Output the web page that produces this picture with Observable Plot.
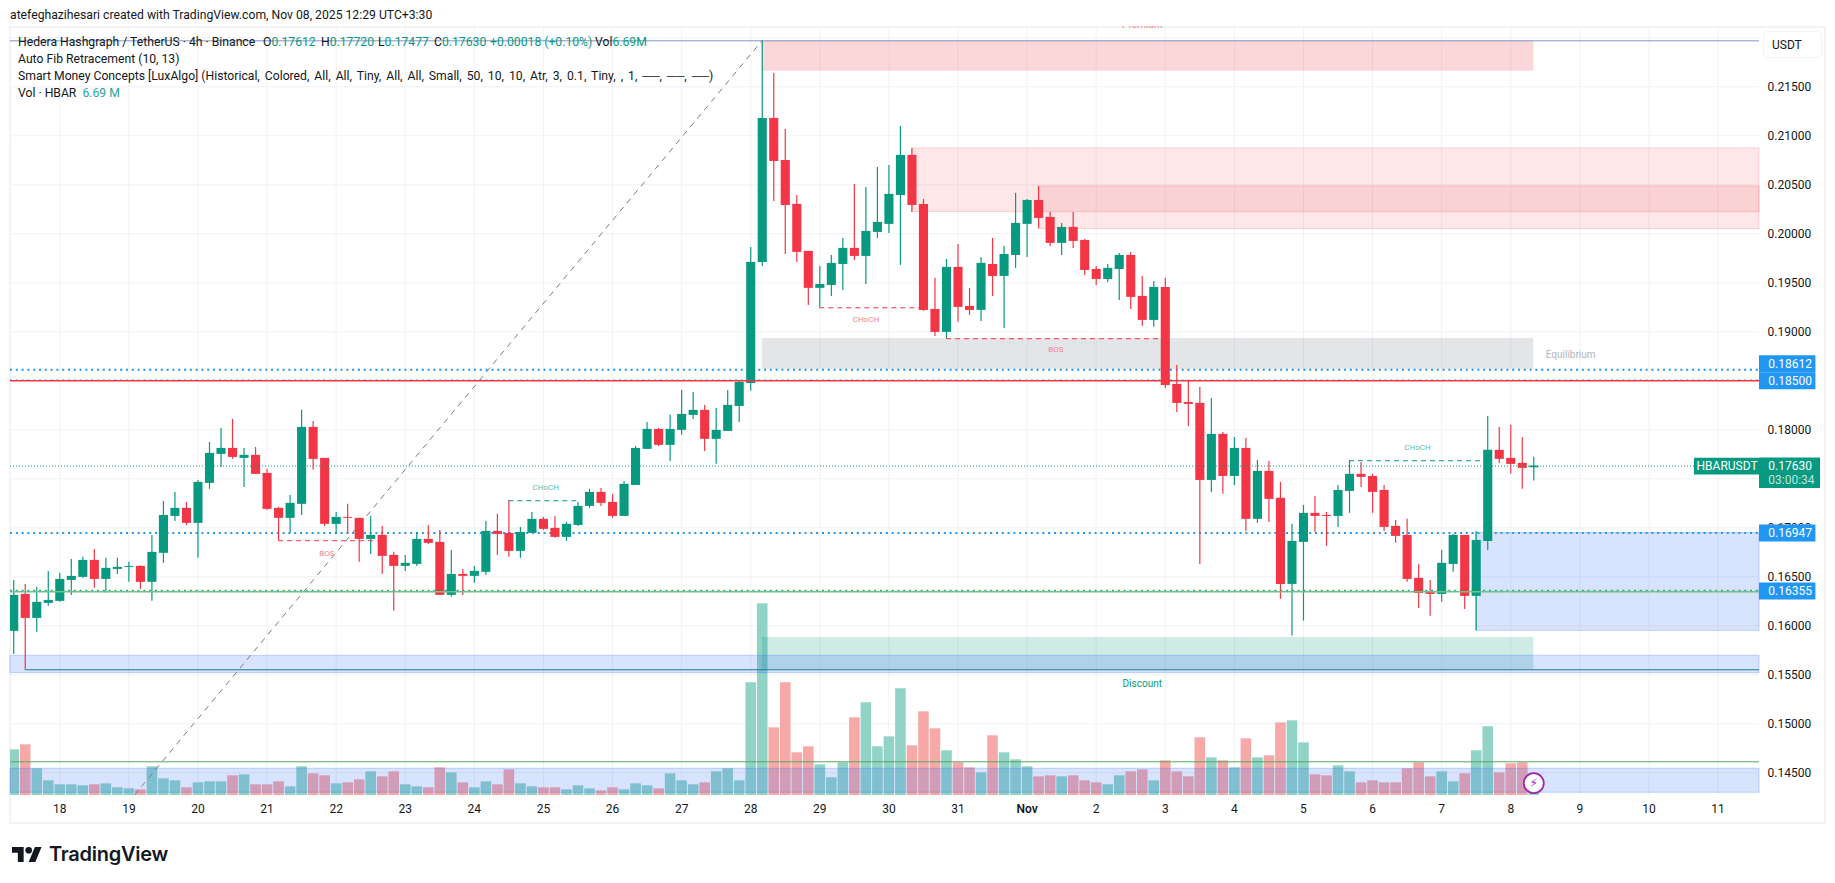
<!DOCTYPE html>
<html>
<head>
<meta charset="utf-8">
<script src="https://cdn.jsdelivr.net/npm/d3@7"></script>
<script src="https://cdn.jsdelivr.net/npm/@observablehq/plot@0.6"></script>
<style>
  body { margin: 0; background: #fff; overflow: hidden; font-family: Roboto, sans-serif; color: #131722; }
  #chart { position: relative; width: 1835px; height: 883px; }
  #chart svg { position: absolute; left: 0; top: 0; background: transparent; }
  #pane { position: absolute; left: 9px; top: 26px; width: 1813px; height: 794px; border: 2px solid #f2f3f5; }
  #head { position: absolute; left: 0; top: 0; width: 1835px; height: 26px; background: #fff; }
  #head div { position: absolute; left: 10px; top: 7px; font-size: 12.2px; line-height: 16px; white-space: nowrap; }
  .leg { position: absolute; left: 18px; font-size: 12.2px; line-height: 16px; white-space: nowrap; }
  .leg b { font-weight: 400; color: #089981; }
  .leg span { position: absolute; top: 0; }
  .leg i { font-style: normal; word-spacing: 2px; }
  #usdt { position: absolute; left: 1763px; top: 31px; width: 57px; height: 25px; background: #fff; border: 1px solid #f0f3fa; border-radius: 4px; font-size: 12px; line-height: 26px; text-indent: 8px; }
  #logo { position: absolute; left: 12px; top: 842px; display: flex; align-items: center; gap: 7px; font-family: Inter, sans-serif; font-weight: 600; font-size: 20px; letter-spacing: -0.25px; color: #131722; }
</style>
</head>
<body>
<div id="chart">
  <div id="pane"></div>
  <div id="plots"></div>
  <div id="head"><div>atefeghazihesari created with TradingView.com, Nov 08, 2025 12:29 UTC+3:30</div></div>
  <div class="leg" style="top:34px">Hedera Hashgraph / TetherUS · 4h · Binance
    <span style="left:245px">O<b>0.17612</b></span>
    <span style="left:303px">H<b>0.17720</b></span>
    <span style="left:360px">L<b>0.17477</b></span>
    <span style="left:416px">C<b>0.17630</b></span>
    <span style="left:472px"><b>+0.00018 (+0.10%)</b></span>
    <span style="left:577px">Vol<b>6.69M</b></span>
  </div>
  <div class="leg" style="top:51px">Auto Fib Retracement (10, 13)</div>
  <div class="leg" style="top:68px">Smart Money Concepts [LuxAlgo] <i>(Historical, Colored, All, All, Tiny, All, All, Small, 50, 10, 10, Atr, 3, 0.1, Tiny, , 1, ──, ──, ──)</i></div>
  <div class="leg" style="top:85px">Vol · HBAR&nbsp;&nbsp;<b style="color:#26a69a">6.69 M</b></div>
  <div id="usdt">USDT</div>
  <div id="logo">
    <svg style="position:static" width="30" height="15" viewBox="0 4 36 18"><path fill="#131722" d="M14 22H7V11H0V4h14v18zM28 22h-8l7.5-18h8L28 22z"/><circle fill="#131722" cx="20" cy="8" r="4"/></svg>
    TradingView
  </div>
</div>
<script>
const opens = [
  .15943,.16320,.16075,.16228,.16249,.16463,.16494,.16667,.16473,.16575,
  .16596,.16606,.16443,.16739,.17116,.17198,.17045,.17453,.17749,.17810,
  .17708,.17739,.17555,.17198,.17096,.17239,.18024,.17708,.17035,.17106,
  .17096,.16881,.16922,.16718,.16606,.16626,.16881,.16851,.16310,.16524,
  .16504,.16545,.16963,.16943,.16759,.16943,.17086,.16994,.16902,.17024,
  .17218,.17361,.17259,.17116,.17432,.17800,.18004,.17841,.17994,.18147,
  .18198,.17902,.17983,.18238,.18473,.19708,.21177,.20748,.20300,.19820,
  .19443,.19473,.19687,.19851,.19769,.20014,.20096,.20391,.20800,.20300,
  .19228,.18994,.19657,.19259,.19218,.19687,.19565,.19779,.20096,.20340,
  .20167,.19902,.20065,.19932,.19636,.19534,.19636,.19779,.19361,.19116,
  .19453,.18463,.18279,.18269,.17483,.17953,.17524,.17810,.17086,.17575,
  .17300,.16422,.16851,.17147,.17126,.17116,.17371,.17545,.17524,.17381,
  .17014,.16922,.16484,.16341,.16320,.16626,.16922,.16300,.16861,.17790,
  .17708,.17657,.17612]
const highs = [
  .16463,.16422,.16392,.16555,.16535,.16677,.16698,.16779,.16688,.16688,
  .16647,.16613,.16922,.17269,.17361,.17259,.17483,.17871,.18014,.18106,
  .17810,.17820,.17596,.17208,.17330,.18198,.18085,.17708,.17157,.17239,
  .17096,.17116,.17014,.16749,.16718,.16953,.17024,.16973,.16769,.16575,
  .16606,.17065,.17137,.17279,.17004,.17157,.17106,.17116,.17055,.17259,
  .17392,.17402,.17341,.17473,.17830,.18075,.18014,.18147,.18402,.18381,
  .18249,.18218,.18402,.18504,.19861,.21973,.21636,.21065,.20391,.19820,
  .19667,.19779,.19953,.20504,.20473,.20677,.20698,.21095,.20871,.20351,
  .19545,.19738,.19891,.19443,.19759,.19953,.19871,.20412,.20351,.20483,
  .20218,.20106,.20218,.19942,.19667,.19687,.19800,.19810,.19565,.19514,
  .19545,.18657,.18504,.18432,.18320,.17973,.17922,.17912,.17688,.17677,
  .17463,.17035,.17228,.17320,.17157,.17432,.17688,.17667,.17545,.17432,
  .17075,.17086,.16626,.16463,.16769,.16932,.16922,.16963,.18136,.18024,
  .18045,.17922,.17720]
const lows = [
  .15708,.15552,.15933,.16198,.16239,.16310,.16484,.16382,.16334,.16524,
  .16443,.16371,.16249,.16637,.17065,.17024,.16688,.17392,.17616,.17698,
  .17412,.17545,.17177,.16868,.16943,.17126,.17586,.17014,.16932,.16932,
  .16647,.16728,.16524,.16147,.16555,.16606,.16830,.16310,.16293,.16310,
  .16433,.16514,.16718,.16698,.16688,.16943,.16973,.16892,.16861,.17014,
  .17198,.17218,.17096,.17116,.17432,.17800,.17830,.17677,.17943,.18106,
  .17779,.17647,.17983,.18075,.18392,.19667,.20330,.19789,.19708,.19269,
  .19245,.19361,.19422,.19728,.19483,.19953,.20004,.19677,.20218,.19208,
  .18953,.18929,.19096,.19167,.19106,.19361,.19034,.19647,.19759,.20055,
  .19871,.19779,.19851,.19575,.19473,.19504,.19320,.19228,.19055,.19045,
  .18422,.18177,.18034,.16626,.17361,.17341,.17432,.16963,.17045,.17055,
  .16269,.15895,.16048,.16953,.16810,.17004,.17147,.17412,.17147,.16963,
  .16841,.16443,.16177,.16096,.16239,.16545,.16167,.15953,.16769,.17657,
  .17545,.17392,.17477]
const closes = [
  .16310,.16075,.16239,.16259,.16473,.16504,.16667,.16473,.16586,.16596,
  .16606,.16443,.16749,.17126,.17198,.17045,.17463,.17759,.17810,.17718,
  .17739,.17545,.17188,.17096,.17249,.18024,.17698,.17035,.17106,.17096,
  .16881,.16922,.16708,.16606,.16637,.16881,.16841,.16310,.16524,.16504,
  .16555,.16963,.16932,.16759,.16953,.17086,.16984,.16902,.17035,.17218,
  .17361,.17249,.17116,.17443,.17810,.18004,.17841,.18004,.18157,.18198,
  .17902,.17994,.18249,.18483,.19708,.21177,.20738,.20289,.19810,.19443,
  .19483,.19698,.19851,.19769,.20024,.20116,.20402,.20800,.20289,.19218,
  .18994,.19657,.19249,.19218,.19698,.19565,.19789,.20106,.20340,.20157,
  .19902,.20065,.19922,.19626,.19534,.19647,.19779,.19351,.19116,.19453,
  .18453,.18269,.18259,.17483,.17953,.17524,.17810,.17086,.17575,.17290,
  .16422,.16861,.17147,.17116,.17116,.17381,.17545,.17514,.17361,.17004,
  .16912,.16473,.16330,.16320,.16637,.16922,.16300,.16871,.17790,.17698,
  .17647,.17606,.17630]
// volume in millions
const volumes = [
  137,152,80,44,32,32,29,32,35,23,
  20,17,86,50,44,23,38,41,41,59,
  62,32,32,41,26,86,65,59,35,38,
  47,71,56,71,32,26,23,83,68,38,
  23,41,32,77,35,26,23,23,17,29,
  20,14,23,17,35,29,20,65,44,32,
  38,71,80,44,338,575,203,338,128,146,
  92,53,98,233,278,146,176,320,149,251,
  200,134,98,83,68,179,128,107,86,56,
  59,56,59,44,38,32,59,71,77,44,
  104,71,56,173,113,104,83,170,113,119,
  218,224,158,62,59,89,71,38,44,38,
  38,80,98,56,71,41,65,134,206,68,
  95,98,6.69]

const dayLabels = ['18','19','20','21','22','23','24','25','26','27','28','29','30','31','Nov','2','3','4','5','6','7','8','9','10','11']
const priceTicks = [.145,.15,.155,.16,.165,.17,.175,.18,.185,.19,.195,.2,.205,.21,.215,.22]
// these tick labels sit under the tags and the currency box, so they are not drawn
const hiddenTicks = [.175,.185,.22]
const dayBars = dayLabels.map((d, k) => 4 + k * 6)

const bars = opens.map((o, i) => ({i, open: o, high: highs[i], low: lows[i], close: closes[i], vol: volumes[i]}))
const barColor = d => d.close >= d.open ? '#089981' : '#f23645'
const volColor = d => d.close >= d.open ? '#92d3c8' : '#f7a9a7'

const layout = {
  width: 1835, height: 883,
  marginLeft: 10, marginRight: 76, marginTop: 27, marginBottom: 88,
  x: {domain: [-0.28, 151.6], axis: null},
  style: {background: 'transparent', fontFamily: 'Roboto, sans-serif'},
}
const priceScale = {domain: [.14268, .22105], axis: null}
const axisEnd = 151.6, lastBar = 132, peakBar = 65
const blueFill = 'rgba(41,105,243,.185)', blueEdge = 'rgba(41,98,255,.25)'
const redFill = 'rgba(242,54,69,.12)', redEdge = 'rgba(242,54,69,.2)'

function zone(x1, x2, y1, y2, fill, stroke) {
  return Plot.rect([0], {x1, x2, y1, y2, fill, stroke: stroke || 'none', strokeWidth: 1})
}
function level(y, stroke, opts) {
  return Plot.ruleY([y], {stroke, strokeWidth: 1, ...opts})
}
function tag(value, fill, dy) {
  return [
    Plot.ruleY([value], {x1: axisEnd, x2: 156.5, stroke: fill, strokeWidth: 17, dy}),
    Plot.text([value], {x: 152.36, y: d => d, text: d => d.toFixed(5), fill: '#fff', textAnchor: 'start', fontSize: 12, dy}),
  ]
}
function label(x, y, text, fill, fontSize) {
  return Plot.text([text], {x, y, text: d => d, fill, fontSize})
}

// gridlines and axes sit at the back
const back = Plot.plot({
  ...layout,
  y: priceScale,
  marks: [
    Plot.ruleY(priceTicks, {stroke: '#f1f2f4', strokeWidth: 1}),
    Plot.ruleX(dayBars, {stroke: '#f1f2f4', strokeWidth: 1}),
    Plot.axisY({anchor: 'right', ticks: priceTicks.filter(d => !hiddenTicks.includes(d)), tickSize: 0, tickPadding: 8, tickFormat: d => d.toFixed(5), fontSize: 12, fill: '#131722', label: null}),
    Plot.axisX({ticks: dayBars.filter((d, k) => dayLabels[k] != 'Nov'), tickSize: 0, tickPadding: 9, tickFormat: d => dayLabels[(d - 4) / 6], fontSize: 12, fill: '#131722', label: null}),
    Plot.axisX({ticks: dayBars.filter((d, k) => dayLabels[k] == 'Nov'), tickSize: 0, tickPadding: 9, tickFormat: d => 'Nov', fontSize: 12, fontWeight: 600, fill: '#131722', label: null}),
  ],
})

const volume = Plot.plot({
  ...layout,
  y: {domain: [0, 2304], axis: null},
  marks: [
    Plot.ruleX(bars, {x: 'i', y1: 0, y2: 'vol', stroke: volColor, strokeWidth: 10.6, clip: true}),
  ],
})

const price = Plot.plot({
  ...layout,
  y: priceScale,
  marks: [
    // smart money zones
    zone(peakBar, lastBar, .21969, .21659, 'rgba(242,54,69,.2)'),
    zone(78, axisEnd, .20871, .20221, redFill, redEdge),
    zone(89, axisEnd, .20483, .20048, redFill, redEdge),
    zone(peakBar, lastBar, .18932, .18616, 'rgba(120,123,134,.2)'),
    zone(peakBar, lastBar, .1588, .15551, 'rgba(8,153,129,.2)'),
    zone(-0.28, axisEnd, .15693, .15517, blueFill, blueEdge),
    zone(127, axisEnd, .16947, .15948, blueFill, blueEdge),
    zone(-0.28, axisEnd, .14541, .14296, blueFill, blueEdge),

    // fib trend line
    Plot.line([[10.5, .14276], [peakBar, .21973]], {stroke: '#787b86', strokeWidth: 1, strokeDasharray: '5,6'}),

    // dotted levels stay behind the candles
    level(.18612, '#2196f3', {strokeWidth: 2, strokeDasharray: '2,3.8'}),
    level(.16947, '#2196f3', {strokeWidth: 2, strokeDasharray: '2,3.8'}),
    level(.18507, '#2196f3', {strokeWidth: 1.2, strokeDasharray: '2,3.8'}),
    level(.16361, '#2196f3', {strokeWidth: 1.2, strokeDasharray: '2,3.8'}),

    // candles
    Plot.ruleX(bars, {x: 'i', y1: 'low', y2: 'high', stroke: barColor, strokeWidth: 1.2, clip: true}),
    Plot.ruleX(bars, {x: 'i', y1: 'open', y2: 'close', stroke: barColor, strokeWidth: 9.1, clip: true}),

    // price levels
    level(.21969, '#8094c4'),
    level(.185, '#f23645', {strokeWidth: 1.5}),
    level(.16347, '#6fc37a', {strokeWidth: 1.5}),
    level(.15551, '#1a7a96', {x1: 1, x2: axisEnd}),
    level(.14612, '#5aa85f', {x1: -0.28, x2: axisEnd}),
    level(.1763, '#089981', {strokeDasharray: '1,2'}),

    // structure breaks
    level(.16868, '#f23645', {x1: 23, x2: 32, strokeDasharray: '5,4'}),
    level(.17276, '#089981', {x1: 43, x2: 49, strokeDasharray: '5,4'}),
    level(.19245, '#f23645', {x1: 70, x2: 79, strokeDasharray: '5,4'}),
    level(.18929, '#f23645', {x1: 81, x2: 100, strokeDasharray: '5,4'}),
    level(.17684, '#089981', {x1: 116, x2: 128, strokeDasharray: '5,4'}),
    label(27.2, .16742, 'BOS', '#f7828f', 8),
    label(46.2, .17409, 'CHoCH', '#5cbfa9', 8),
    label(74, .19123, 'CHoCH', '#f7828f', 8),
    label(90.5, .18817, 'BOS', '#f7828f', 8),
    label(121.9, .17817, 'CHoCH', '#5cbfa9', 8),
    label(98, .15404, 'Discount', '#089981', 10),
    label(98, .22136, 'Premium', '#f7828f', 10),
    label(135.2, .18762, 'Equilibrium', '#b2b5be', 10),

    // alert icon
    Plot.dot([0], {x: lastBar, y: .14394, r: 10, fill: '#fff', stroke: '#9c27b0', strokeWidth: 1.8}),
    Plot.text(['\u26a1'], {x: lastBar, y: .14394, text: d => d, fill: '#9c27b0', fontSize: 12, fontFamily: 'DejaVu Sans'}),

    // price axis tags
    tag(.18612, '#2196f3', -6),
    tag(.185, '#2196f3', 0),
    tag(.16947, '#2196f3', 0),
    tag(.16355, '#2196f3', 0),
    Plot.ruleY([.1763], {x1: 145.95, x2: axisEnd, stroke: '#089981', strokeWidth: 16.7, dy: 0}),
    Plot.text(['HBARUSDT'], {x: 148.78, y: .1763, text: d => d, fill: '#fff', fontSize: 12}),
    Plot.ruleY([.1763], {x1: axisEnd, x2: 156.9, stroke: '#089981', strokeWidth: 30.7, dy: 6.7}),
    Plot.text([.1763], {x: 152.36, y: d => d, text: d => d.toFixed(5), fill: '#fff', textAnchor: 'start', fontSize: 12}),
    Plot.text(['03:00:34'], {x: 152.36, y: .17482, text: d => d, fill: '#bfe5dd', textAnchor: 'start', fontSize: 12}),
  ],
})

const holder = d3.select('#plots')
holder.append(() => back)
holder.append(() => volume)
holder.append(() => price)
</script>
</body>
</html>
